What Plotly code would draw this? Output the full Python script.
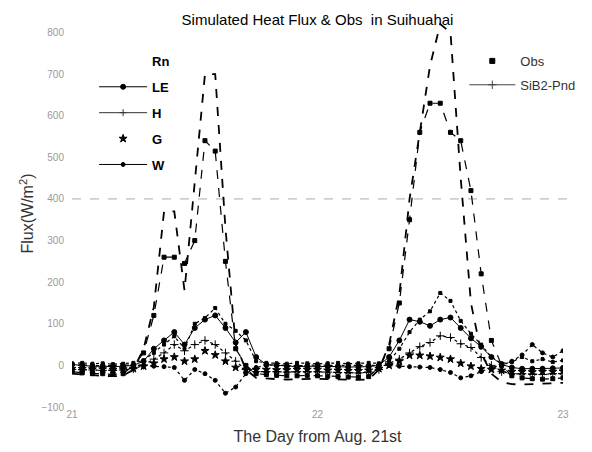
import plotly.graph_objects as go

# ---- data (hourly, h = hours since Aug 21 00:00) ----
hours = [0, 1, 2, 3, 4, 5, 6, 7, 8, 9, 10, 11, 12, 13, 14, 15, 16, 17, 18, 19, 20, 21, 22, 23, 24,
         25, 26, 27, 28, 29, 30, 31, 32, 33, 34, 35, 36, 37, 38, 39, 40, 41, 42, 43, 44, 45, 46, 47, 48]

rn_sim = [-20, -22, -24, -25, -26, -25, -10, 40, 140, 370, 370, 180, 440, 700, 700, 330, 50, -10, -30, -32, -33, -34, -33, -32, -32,
          -33, -34, -35, -35, -34, -10, 50, 170, 400, 560, 720, 820, 800, 450, 150, 30, -20, -40, -45, -46, -45, -44, -43, -42]
rn_obs = [-15, -18, -20, -20, -22, -20, 0, 30, 120, 260, 260, 245, 300, 540, 515, 250, 40, 0, -20, -22, -24, -25, -25, -24, -25,
          -26, -27, -28, -28, -27, -5, 40, 150, 350, 560, 630, 630, 560, 540, 420, 220, 60, 0, -25, -30, -32, -33, -32, -30]
le_sim = [2, 0, -2, -2, -3, -2, 0, 10, 40, 60, 80, 50, 90, 110, 120, 90, 55, 80, 20, 2, 0, -2, -3, -2, -2,
          -3, -3, -4, -4, -3, 0, 20, 60, 110, 105, 95, 110, 115, 90, 65, 45, 20, 2, -5, -8, -8, -8, -7, -6]
le_obs = [5, 6, 4, 5, 3, 4, 6, 12, 30, 50, 70, 40, 100, 114, 138, 100, 83, 60, 10, 6, 5, 4, 6, 5, 4,
          5, 6, 4, 5, 6, 5, 10, 40, 80, 110, 130, 174, 155, 107, 76, 50, 20, 5, 8, 20, 10, 15, 8, 12]
h_sim = [-10, -10, -11, -12, -12, -11, -8, 0, 15, 30, 50, 35, 50, 60, 50, 30, 10, -10, -15, -15, -15, -16, -15, -15, -15,
         -16, -17, -17, -18, -16, -10, 5, 15, 30, 45, 55, 71, 67, 52, 43, 19, 0, -15, -20, -20, -21, -22, -20, -20]
g_obs = [-8, -8, -9, -9, -10, -9, -8, -2, 5, 15, 20, 10, 15, 35, 25, 10, -5, -10, -10, -10, -11, -11, -10, -10, -10,
         -12, -12, -13, -13, -12, -8, 0, 10, 24, 24, 22, 19, 15, 5, -2, -8, -10, -12, -15, -15, -16, -15, -15, -14]
w_sim = [0, 1, 0, -1, 0, 1, 0, 0, -2, -3, -5, -36, -10, -20, -36, -67, -52, -20, -5, 0, 1, 0, -1, 0, 1,
         0, 0, 1, 0, 0, 0, 0, -2, -3, -4, -5, -10, -17, -30, -25, -15, -5, 0, 10, 25, 50, 30, 20, 35]

x_days = [21 + h / 24 for h in hours]

y_ticks = [-100, 0, 100, 200, 300, 400, 500, 600, 700, 800]
x_ticks = [21, 22, 23]
ref_level = 400

fig = go.Figure()


def add(y, name, mode, dash=None, width=1.0, symbol='circle', msize=4, show=False,
        legend='legend', color='black'):
    has = y is not None
    fig.add_trace(go.Scatter(
        x=x_days if has else [None], y=y if has else [None],
        mode=mode, name=name, showlegend=show, legend=legend, legendgroup=name,
        line=dict(color=color, width=width, dash=dash),
        marker=dict(symbol=symbol, size=msize, color=color,
                    line=dict(color=color, width=1)),
        hoverinfo='skip'))


# data traces
add(rn_sim, 'Rn sim', 'lines', dash='dash', width=1.8)
add(rn_obs, 'Rn obs', 'lines+markers', dash='dash', width=1.2, symbol='square', msize=4)
add(le_sim, 'LE sim', 'lines+markers', width=1, symbol='circle', msize=5)
add(le_obs, 'LE obs', 'lines+markers', dash='dot', width=1.2, symbol='square', msize=3)
add(h_sim, 'H sim', 'lines+markers', dash='dot', width=1.2, symbol='cross-thin-open', msize=6)
add(g_obs, 'G obs', 'markers', symbol='star', msize=6)
add(w_sim, 'W sim', 'lines+markers', dash='dot', width=1.2, symbol='circle', msize=4)

# legend entries (variables)
add(None, 'Rn', 'lines', width=0, show=True, color='rgba(0,0,0,0)')
add(None, 'LE', 'lines+markers', width=1, symbol='circle', msize=5, show=True)
add(None, 'H', 'lines+markers', width=1, symbol='cross-thin-open', msize=5, show=True, color='#333333')
add(None, 'G', 'markers', symbol='star', msize=6, show=True)
add(None, 'W', 'lines+markers', width=1, symbol='circle', msize=4, show=True)
# legend entries (source)
add(None, 'Obs', 'markers', symbol='square', msize=5, show=True, legend='legend2')
add(None, 'SiB2-Pnd', 'lines+markers', width=1, symbol='cross-thin-open', msize=6, show=True,
    legend='legend2', color='#444444')

fig.add_shape(type='line', xref='paper', x0=0, x1=1.02, yref='y', y0=ref_level, y1=ref_level,
              line=dict(color='#aaaaaa', width=1, dash='dash'), layer='below')

fig.update_layout(
    width=584, height=444,
    margin=dict(l=64, r=27, t=12, b=45),
    plot_bgcolor='white', paper_bgcolor='white',
    font=dict(family='Liberation Sans'),
    title=dict(text='Simulated Heat Flux & Obs  in Suihuahai', x=0.5, xref='paper',
               y=1 - 12 / 444, yanchor='middle',
               font=dict(family='Liberation Sans', size=15, color='black')),
    xaxis=dict(range=[21, 23], tickvals=x_ticks, showgrid=False, zeroline=False, showline=False,
               ticks='', tickfont=dict(size=10, color='#999999'),
               title=dict(text='The Day from Aug. 21st', standoff=11,
                          font=dict(size=16, color='#333333')),
               automargin=False),
    yaxis=dict(range=[-100, 830], tickvals=y_ticks, showgrid=False, zeroline=False, showline=False,
               ticks='', tickfont=dict(size=10, color='#999999'), ticklabelstandoff=7,
               title=dict(text='Flux(W/m<sup>2</sup>)', standoff=3,
                          font=dict(size=16, color='#333333')),
               automargin=False),
    legend=dict(x=0.045, y=0.933, xanchor='left', yanchor='top', bgcolor='rgba(0,0,0,0)',
                font=dict(family='Liberation Sans', size=13, color='black', weight='bold'),
                itemwidth=48, tracegroupgap=6, traceorder='grouped'),
    legend2=dict(x=0.799, y=0.933, xanchor='left', yanchor='top', bgcolor='rgba(0,0,0,0)',
                 font=dict(family='Liberation Sans', size=13, color='#333333'),
                 itemwidth=46, tracegroupgap=4, traceorder='grouped'),
)

fig.write_html('out.html')
